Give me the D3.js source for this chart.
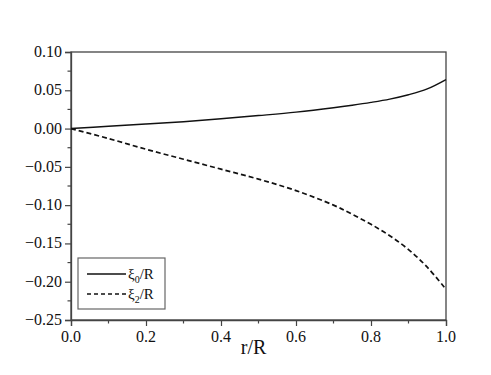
<!DOCTYPE html>
<html>
<head>
<meta charset="utf-8">
<script src="https://cdn.jsdelivr.net/npm/d3@7"></script>
<style>
  body { margin: 0; background: #fff; }
  svg text { font-family: "Liberation Serif", "Times New Roman", serif; fill: #111; }
</style>
</head>
<body>
<div id="chart"></div>
<script>
// data
const rValues = [0, 0.1, 0.2, 0.3, 0.4, 0.5, 0.6, 0.7, 0.75, 0.8, 0.85, 0.9, 0.95, 1.0];
const xi0Values = [0, 0.003, 0.006, 0.009, 0.0128, 0.0170, 0.0215, 0.0272, 0.0305, 0.0342, 0.0385, 0.0442, 0.0518, 0.064];
const xi2Values = [0, -0.013, -0.027, -0.040, -0.053, -0.066, -0.081, -0.100, -0.112, -0.125, -0.140, -0.158, -0.181, -0.210];
const xTicks = [0, 0.2, 0.4, 0.6, 0.8, 1.0];
const yTicks = [0.10, 0.05, 0.00, -0.05, -0.10, -0.15, -0.20, -0.25];

const W = 491, H = 375;
const margin = { top: 52, right: 45, bottom: 55, left: 71 };
const width = W - margin.left - margin.right;
const height = H - margin.top - margin.bottom;

const svg = d3.select("#chart").append("svg")
  .attr("width", W).attr("height", H);
const g = svg.append("g").attr("transform", `translate(${margin.left},${margin.top})`);

const x = d3.scaleLinear().domain([0, 1]).range([0, width]);
const y = d3.scaleLinear().domain([-0.25, 0.10]).range([height, 0]);

const axisColor = "#444";

// frame
g.append("rect").attr("width", width).attr("height", height)
  .attr("fill", "none").attr("stroke", axisColor).attr("stroke-width", 1.3);

// minor ticks
const xMinor = d3.range(0.1, 1, 0.2);
g.selectAll(".xminor").data(xMinor).enter().append("line")
  .attr("x1", d => x(d)).attr("x2", d => x(d))
  .attr("y1", height).attr("y2", height + 3.5)
  .attr("stroke", axisColor).attr("stroke-width", 1.2);
const yMinor = d3.range(-0.225, 0.1, 0.05);
g.selectAll(".yminor").data(yMinor).enter().append("line")
  .attr("x1", 0).attr("x2", -3.5)
  .attr("y1", d => y(d)).attr("y2", d => y(d))
  .attr("stroke", axisColor).attr("stroke-width", 1.2);

// axes (lines and major ticks only)
const xAxis = g.append("g").attr("transform", `translate(0,${height})`)
  .call(d3.axisBottom(x).tickValues(xTicks).tickFormat("").tickSize(6));
const yAxis = g.append("g")
  .call(d3.axisLeft(y).tickValues(yTicks).tickFormat("").tickSize(6));
[xAxis, yAxis].forEach(a => {
  a.select(".domain").attr("stroke", axisColor).attr("stroke-width", 1.3);
  a.selectAll(".tick line").attr("stroke", axisColor).attr("stroke-width", 1.2);
});

// tick labels
g.selectAll(".xlab").data(xTicks).enter().append("text")
  .attr("class", "xlab")
  .attr("x", d => x(d)).attr("y", height + 22)
  .attr("text-anchor", "middle")
  .style("font-size", "16px")
  .text(d3.format(".1f"));
g.selectAll(".ylab").data(yTicks).enter().append("text")
  .attr("class", "ylab")
  .attr("x", -9).attr("y", d => y(d) + 5)
  .attr("text-anchor", "end")
  .style("font-size", "16px")
  .text(d3.format(".2f"));

// axis title
g.append("text")
  .attr("x", width / 2 - 5).attr("y", height + 34)
  .attr("text-anchor", "middle")
  .style("font-size", "20px")
  .text("r/R");

// curves
const pts0 = rValues.map((r, i) => [r, xi0Values[i]]);
const pts2 = rValues.map((r, i) => [r, xi2Values[i]]);
const line = d3.line().x(d => x(d[0])).y(d => y(d[1])).curve(d3.curveCatmullRom.alpha(0.5));

g.append("path").datum(pts0).attr("d", line)
  .attr("fill", "none").attr("stroke", "#111").attr("stroke-width", 1.4);
g.append("path").datum(pts2).attr("d", line)
  .attr("fill", "none").attr("stroke", "#111").attr("stroke-width", 1.7)
  .attr("stroke-dasharray", "5,3");

// legend
const legend = g.append("g").attr("transform", `translate(${78 - margin.left},${258 - margin.top})`);
legend.append("rect").attr("width", 87).attr("height", 51)
  .attr("fill", "#fff").attr("stroke", "#666").attr("stroke-width", 1.2);

const items = [
  { sub: "0", dash: null, yy: 16 },
  { sub: "2", dash: "4,3", yy: 36 }
];
items.forEach(it => {
  legend.append("line")
    .attr("x1", 9).attr("x2", 48).attr("y1", it.yy).attr("y2", it.yy)
    .attr("stroke", "#111").attr("stroke-width", 1.3)
    .attr("stroke-dasharray", it.dash);
  const t = legend.append("text").attr("x", 50).attr("y", it.yy + 5)
    .style("font-size", "15px");
  t.append("tspan").text("ξ");
  t.append("tspan").attr("dy", 4).style("font-size", "10px").text(it.sub);
  t.append("tspan").attr("dy", -4).text("/R");
});
</script>
</body>
</html>
